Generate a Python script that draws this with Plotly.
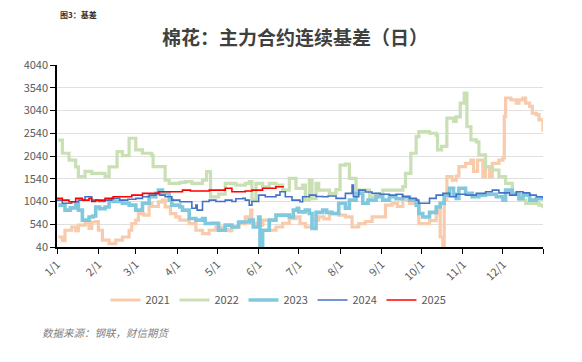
import plotly.graph_objects as go

# ---------------- data (month-day, basis value) ----------------
d2021 = ["01-02","01-05","01-07","01-12","01-15","01-17","01-22","01-25","01-27","01-30",
         "02-01","02-04","02-09","02-14","02-19","02-24","02-26","03-01","03-03","03-07",
         "03-11","03-13","03-18","03-21","03-23","03-27","03-31","04-03","04-10","04-15",
         "04-20","04-25","04-30","05-05","05-09","05-12","05-17","05-22","05-26","05-27",
         "05-30","06-04","06-09","06-14","06-19","06-24","06-29","07-02","07-06","07-11",
         "07-16","07-20","07-24","07-31","08-05","08-10","08-15","08-20","08-25","08-30",
         "09-04","09-09","09-13","09-17","09-22","09-25","09-29","10-07","10-12","10-14",
         "10-15","10-17","10-18","10-20","10-24","10-27","10-29","11-03","11-07","11-09",
         "11-12","11-16","11-18","11-21","11-23","11-28","12-01","12-02","12-03","12-07",
         "12-11","12-13","12-16","12-18","12-21","12-23","12-26","12-28","12-31"]
v2021 = [260,180,408,480,400,520,555,450,590,600,
         408,190,115,190,260,408,555,630,775,740,
         1000,930,1033,1070,922,775,700,630,555,408,
         335,408,480,420,400,480,555,700,850,560,
         520,630,408,480,560,665,700,555,480,630,
         700,660,775,740,700,480,555,600,700,700,
         960,1000,930,1070,1000,1000,555,620,775,920,
         260,40,1070,1585,1510,1600,1805,1880,1950,1700,
         1950,1585,1800,1585,1880,1950,2000,2910,3315,3275,
         3200,3275,3315,3200,3130,2980,2950,2835,2580]

d2022 = ["01-02","01-05","01-10","01-15","01-17","01-22","01-27","02-06","02-09","02-15",
         "02-19","02-24","02-27","03-01","03-06","03-13","03-14","03-21","03-23","03-26",
         "04-03","04-07","04-12","04-20","04-23","04-25","04-26","05-02","05-07","05-15",
         "05-22","05-25","05-27","05-30","06-04","06-09","06-14","06-19","06-24","06-29",
         "07-04","07-06","07-09","07-11","07-14","07-16","07-24","07-29","08-01","08-05",
         "08-08","08-11","08-13","08-23","08-28","09-02","09-09","09-17","09-19","09-23",
         "09-27","09-29","10-07","10-12","10-13","10-16","10-20","10-25","10-27","10-30",
         "11-02","11-04","11-07","11-11","11-13","11-18","11-23","11-28","12-03","12-08",
         "12-13","12-18","12-23","12-28","12-31"]
v2022 = [2390,2100,1950,1800,1585,1700,1660,1585,1800,2135,
         2050,2430,2430,2175,2100,2050,1805,1805,1510,1440,
         1460,1475,1440,1510,1695,1690,1143,1200,1440,1400,
         1440,1475,1070,1440,1360,1440,1400,1290,1550,1330,
         1400,1070,1510,1100,1440,1290,1220,1300,1840,1860,
         1550,1550,1290,1143,1200,1290,1290,1365,1660,2100,
         2465,2577,2540,2500,2175,2250,2873,2800,2900,3203,
         3425,2687,2394,2350,2063,1805,1732,1585,1440,1218,
         1070,1000,1000,960,890]

d2023 = ["01-02","01-07","01-11","01-15","01-17","01-20","01-25","01-28","01-30","02-02",
         "02-06","02-09","02-12","02-19","02-24","03-01","03-06","03-11","03-16","03-18",
         "03-21","03-26","03-28","04-03","04-05","04-10","04-15","04-20","04-22","04-27",
         "05-02","05-07","05-12","05-17","05-25","05-28","06-01","06-02","06-04","06-09",
         "06-14","06-19","06-24","06-27","06-30","07-01","07-06","07-09","07-11","07-14",
         "07-19","07-22","07-26","07-31","08-05","08-08","08-13","08-18","08-22","08-28",
         "09-02","09-07","09-12","09-17","09-22","09-27","09-29","10-02","10-07","10-12",
         "10-15","10-18","10-22","10-25","10-27","10-29","11-03","11-08","11-13","11-18",
         "11-26","12-01","12-03","12-08","12-13","12-16","12-21","12-26","12-31"]
v2023 = [960,850,900,1000,850,630,700,720,920,880,
         920,1070,1040,1000,960,850,1000,1143,1218,1290,
         1218,1070,960,920,850,665,630,665,555,560,
         408,520,480,590,630,480,700,80,408,630,
         740,740,700,850,890,813,850,775,445,800,
         850,800,775,1000,890,1070,1218,1000,1070,1143,
         1070,1143,1100,1143,1070,960,775,700,800,920,
         1000,1180,1330,1200,1108,1330,1218,1143,1180,1200,
         1143,1070,1290,1200,1108,1180,1070,1100,1070]

d2024 = ["01-01","01-05","01-12","01-17","01-22","01-27","02-01","02-06","02-11","02-17",
         "02-23","03-01","03-06","03-11","03-16","03-19","03-23","03-28","04-03","04-10",
         "04-12","04-15","04-16","04-20","04-25","04-30","05-07","05-12","05-15","05-20",
         "05-22","05-25","05-27","06-01","06-06","06-14","06-17","06-21","06-26","07-02",
         "07-04","07-09","07-14","07-19","07-23","07-29","08-05","08-10","08-11","08-15",
         "08-20","08-25","08-31","09-07","09-12","09-17","09-22","09-27","09-29","10-07",
         "10-12","10-17","10-22","10-27","11-03","11-11","11-18","11-23","11-28","12-06",
         "12-11","12-16","12-21","12-26","12-31"]
v2024 = [1070,1000,1033,1070,1143,1070,1040,1070,1108,1070,
         1090,1108,1143,1180,1218,1180,1143,1070,1033,1033,
         890,960,850,1040,1070,1040,1070,1040,1100,1108,
         1070,960,1040,1180,1143,1180,1255,1143,1070,1033,
         1143,1180,1150,1143,1160,1108,1218,1400,1143,1290,
         1250,1218,1200,1180,1200,1143,1108,1070,1000,1108,
         1180,1218,1143,1200,1180,1218,1255,1290,1230,1180,
         1255,1230,1180,1143,1108]

d2025 = ["01-01","01-05","01-10","01-15","01-20","01-25","01-27","01-30","02-06","02-12",
         "02-19","02-26","03-06","03-13","03-18","03-28","04-05","04-11","04-25","05-07",
         "05-12","05-22","05-27","06-04","06-14","06-20"]
v2025 = [1108,1070,1033,1108,1070,1108,1040,1070,1108,1143,
         1143,1180,1218,1218,1255,1255,1290,1270,1290,1330,
         1255,1270,1290,1330,1365,1365]

y_ticks = [40, 540, 1040, 1540, 2040, 2540, 3040, 3540, 4040]
x_ticks = ["01-01","02-01","03-01","04-01","05-01","06-01","07-01","08-01",
           "09-01","10-01","11-01","12-01","12-31"]
x_labels = ["1/1","2/1","3/1","4/1","5/1","6/1","7/1","8/1","9/1","10/1","11/1","12/1",""]

series = [
    ("2021", d2021, v2021, "#F8CBAD", 3.2),
    ("2022", d2022, v2022, "#C9DFB4", 3.2),
    ("2023", d2023, v2023, "#80C8DD", 3.6),
    ("2024", d2024, v2024, "#4472C4", 1.6),
    ("2025", d2025, v2025, "#FF0000", 1.6),
]

def to_date(md):
    return "2021-" + md

fig = go.Figure()
for name, d, v, color, w in series:
    fig.add_trace(go.Scatter(
        x=[to_date(s) for s in d], y=v, name=name, mode="lines",
        line=dict(color=color, width=w, shape="hv"),
    ))

# page body has an 8px margin, so the figure is sized/placed to compensate
OFF = 8
W, H = 582 - OFF, 362 - OFF
PL, PR, PT, PB = 57, 543, 65, 247          # desired plot box in window pixels
ML, MR, MT = PL - OFF, (W + OFF) - PR, PT - OFF
MB = (H + OFF) - PB
PW, PH = PR - PL, PB - PT

def px(x):
    return (x - PL) / PW

def py(y):
    return (PB - y) / PH

FONT = "Noto Sans CJK SC"
fig.update_layout(
    width=W, height=H,
    margin=dict(l=ML, r=MR, t=MT, b=MB),
    paper_bgcolor="white", plot_bgcolor="white",
    font=dict(family=FONT, size=11, color="#595959"),
    showlegend=True,
    legend=dict(orientation="h", x=px(278), xanchor="center", y=py(300), yanchor="middle",
                font=dict(size=11, color="#595959"), tracegroupgap=0,
                entrywidth=24, entrywidthmode="pixels"),
    title=dict(text="棉花：主力合约连续基差（日）", x=0.5, xanchor="center",
               y=1 - (38 - OFF) / H, yanchor="middle",
               font=dict(family=FONT, size=19, color="#404040", weight="bold")),
)
fig.update_xaxes(
    type="date", range=["2021-01-01", "2021-12-31"],
    tickvals=[to_date(s) for s in x_ticks], ticktext=x_labels,
    tickangle=-45, ticks="outside", ticklen=5, tickcolor="#000000",
    showline=True, linecolor="#000000", linewidth=1.5,
    showgrid=False, tickfont=dict(size=11, color="#595959"),
)
fig.update_yaxes(
    range=[40, 4040], tickvals=y_ticks, ticks="outside", ticklen=5,
    tickcolor="#000000", showline=True, linecolor="#000000", linewidth=1.5,
    showgrid=True, gridcolor="#E0E0E0", gridwidth=1, zeroline=False,
    tickfont=dict(size=11, color="#595959"),
)
fig.add_annotation(text="图3：基差", xref="paper", yref="paper",
                   x=px(58), y=py(14), xanchor="left", yanchor="middle",
                   showarrow=False, font=dict(family=FONT, size=8, color="#333333", weight="bold"))
fig.add_annotation(text="<i>数据来源：钢联，财信期货</i>", xref="paper", yref="paper",
                   x=px(40), y=py(332), xanchor="left", yanchor="middle",
                   showarrow=False, font=dict(family=FONT, size=10.5, color="#7F7F7F"))

fig.write_html("out.html")
